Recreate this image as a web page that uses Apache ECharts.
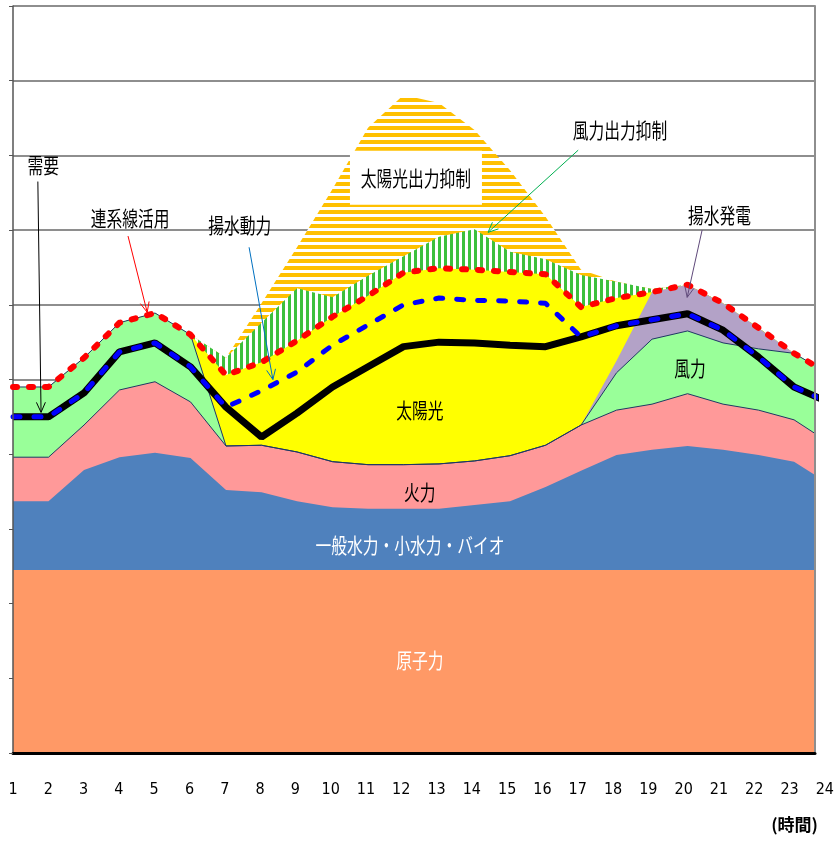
<!DOCTYPE html>
<html lang="ja">
<head>
<meta charset="UTF-8">
<title>需給イメージ</title>
<script src="https://cdn.jsdelivr.net/npm/echarts@6/dist/echarts.min.js"></script>
<style>
    html, body { margin: 0; padding: 0; background: #fff; }
    #main { width: 837px; height: 842px; }
</style>
</head>
<body>
<div id="main"></div>
<script>
// 時刻
var hours = [1,2,3,4,5,6,7,8,9,10,11,12,13,14,15,16,17,18,19,20,21,22,23,24];
var plotEndHour = 23.59;   // 図の右端で切れている位置

// 積み上げ（下から）
var nuclear      = [24.5,24.5,24.5,24.5,24.5,24.5,24.5,24.5,24.5,24.5,24.5,24.5,24.5,24.5,24.5,24.5,24.5,24.5,24.5,24.5,24.5,24.5,24.5,24.5];
var hydro        = [9.2,9.2,13.4,15.1,15.7,15.0,10.7,10.4,9.2,8.4,8.2,8.2,8.2,8.7,9.2,11.1,13.3,15.4,16.1,16.6,16.1,15.4,14.5,11.5];
var thermal      = [5.9,5.9,6.0,9.0,9.5,7.5,5.9,6.3,6.6,6.1,5.9,5.9,6.0,5.9,6.1,5.6,6.1,6.0,6.1,7.0,6.1,6.0,5.6,5.5];
var wind         = [9.4,9.4,9.0,9.0,9.2,9.0,0,0,0,0,0,0,0,0,0,0,0,5.0,8.7,8.4,8.2,8.2,8.9,9.2];
var pumpGen      = [0,0,0,0,0,0,0,0,0,0,0,0,0,0,0,0,0,1.6,6.3,6.2,5.3,2.8,0,0];
var solar        = [0,0,0,0,0,0,9.5,11.1,14.9,19.4,22.6,25.7,26.2,25.6,24.6,22.9,15.8,8.4,0,0,0,0,0,0];
var windCurtail  = [0,0,0,0,0,0,2.3,5.3,7.0,2.6,2.7,2.2,4.2,5.4,2.7,2.0,4.3,2.2,0.4,0,0,0,0,0];
var solarCurtail = [0,0,0,0,0,0,0,2.6,5.5,14.5,19.8,21.6,17.9,13.3,10.9,5.7,0.7,0,0,0,0,0,0,0];

// 線
var demand         = [45.0,45.0,48.2,53.7,54.9,51.7,46.3,42.3,45.5,49.0,51.7,54.4,55.0,54.9,54.6,54.4,55.7,57.2,58.0,58.8,56.6,53.0,49.0,46.9];
var demandWithPump = [45.0,45.0,48.2,53.7,54.9,51.7,46.3,48.5,51.0,54.6,57.3,60.0,60.9,60.6,60.5,60.2,55.7,57.2,58.0,58.8,56.6,53.0,49.0,46.9];

var jpFont = "'Noto Sans CJK JP', sans-serif";

function pairs(arr) {
    return hours.map(function (h, i) { return [h, arr[i]]; });
}

// 積み上げの各上端を計算
var layers = [nuclear, hydro, thermal, wind, pumpGen, solar, windCurtail, solarCurtail];
var tops = [];
var run = hours.map(function () { return 0; });
layers.forEach(function (arr) {
    run = run.map(function (v, i) { return +(v + arr[i]).toFixed(2); });
    tops.push(run);
});
var total = tops[5];   // 連系線活用込みの供給合計

function stripes(color, horizontal) {
    var c = document.createElement('canvas');
    c.width = horizontal ? 8 : 6;
    c.height = horizontal ? 7 : 8;
    var ctx = c.getContext('2d');
    ctx.fillStyle = '#fff';
    ctx.fillRect(0, 0, c.width, c.height);
    ctx.fillStyle = color;
    if (horizontal) ctx.fillRect(0, 0, c.width, 4);
    else ctx.fillRect(0, 0, 3, c.height);
    return { image: c, repeat: 'repeat' };
}

function areaSeries(name, arr, fill, outline) {
    return {
        name: name, type: 'line', data: pairs(arr),
        xAxisIndex: 0, yAxisIndex: 0,
        symbol: 'none', smooth: false,
        lineStyle: outline ? { color: '#1F3864', width: 1 } : { width: 0 },
        areaStyle: { color: fill, opacity: 1, origin: 'start' },
        z: 2
    };
}

var myChart = echarts.init(document.getElementById('main'));

var option = {
    animation: false,
    backgroundColor: '#fff',
    grid: [
        { left: 13, right: 22, top: 6, bottom: 89 },
        { left: 13, right: 7, top: 6, bottom: 89, show: false }
    ],
    xAxis: [
        {
            gridIndex: 0, type: 'value', min: 1, max: plotEndHour, z: 5,
            axisLine: { show: true, lineStyle: { color: '#000', width: 3 } },
            axisTick: { show: false }, axisLabel: { show: false }, splitLine: { show: false }
        },
        {
            gridIndex: 1, type: 'value', min: 1, max: 24, interval: 1,
            axisLine: { show: false }, axisTick: { show: false }, splitLine: { show: false },
            axisLabel: {
                margin: 29, color: '#000', fontSize: 16,
                fontFamily: "'Liberation Sans Narrow', 'DejaVu Sans Condensed', 'Noto Sans', sans-serif"
            }
        }
    ],
    yAxis: [
        {
            gridIndex: 0, type: 'value', min: 0, max: 100, interval: 10,
            axisLine: { show: false }, axisTick: { show: false }, axisLabel: { show: false },
            splitLine: { show: true, lineStyle: { color: '#8E8E8E', width: 2 } }
        },
        {
            gridIndex: 0, type: 'value', position: 'left', min: 0, max: 100, interval: 10, z: 5,
            axisLine: { show: true, lineStyle: { color: '#555', width: 1.5 } },
            axisTick: { show: true, length: 4, lineStyle: { color: '#555' } },
            axisLabel: { show: false }, splitLine: { show: false }
        },
        {
            gridIndex: 0, type: 'value', position: 'right', min: 0, max: 100, z: 5,
            axisLine: { show: true, lineStyle: { color: '#8E8E8E', width: 2 } },
            axisTick: { show: false }, axisLabel: { show: false }, splitLine: { show: false }
        },
        { gridIndex: 1, type: 'value', min: 0, max: 100, show: false }
    ],
    // 上の層から順に描き、下の層で覆う
    series: [
        areaSeries('太陽光出力抑制', tops[7], stripes('#FFC000', true), false),
        areaSeries('風力出力抑制', tops[6], stripes('#3CC03C', false), false),
        areaSeries('太陽光', tops[5], '#FFFF00', false),
        areaSeries('揚水発電', tops[4], '#B3A2C7', false),
        areaSeries('風力', tops[3], '#99FF99', true),
        areaSeries('火力', tops[2], '#FF9999', true),
        areaSeries('一般水力・小水力・バイオ', tops[1], '#4F81BD', false),
        areaSeries('原子力', tops[0], '#FF9966', false),
        {
            name: '需要', type: 'line', data: pairs(demand), symbol: 'none', z: 3,
            lineStyle: { color: '#000', width: 7 }
        },
        {
            name: '揚水動力', type: 'line', data: pairs(demandWithPump), symbol: 'none', z: 4,
            lineStyle: { color: '#0000FF', width: 5, type: [7, 14], cap: 'round' }
        },
        {
            name: '連系線活用', type: 'line', data: pairs(total), symbol: 'none', z: 5,
            lineStyle: { color: '#FF0000', width: 6, type: [4, 12], cap: 'round' }
        }
    ]
};

myChart.setOption(option);

// 注記（データ座標で指定）
var notes = [
    { text: '需要', at: [1.85, 78.7], from: [1.70, 76.5], to: [1.79, 45.6], color: '#000000' },
    { text: '連系線活用', at: [4.30, 71.6], from: [4.24, 69.2], to: [4.78, 59.0], color: '#FF0000' },
    { text: '揚水動力', at: [7.39, 70.7], from: [7.65, 67.7], to: [8.32, 50.0], color: '#0070C0' },
    { text: '太陽光出力抑制', at: [12.35, 77.0], box: true },
    { text: '風力出力抑制', at: [18.10, 83.4], from: [16.92, 80.7], to: [14.38, 69.7], color: '#00B050' },
    { text: '揚水発電', at: [20.90, 72.0], from: [20.41, 70.0], to: [19.99, 61.0], color: '#604A7B' },
    { text: '風力', at: [20.07, 51.5] },
    { text: '太陽光', at: [12.46, 45.9] },
    { text: '火力', at: [12.46, 34.9] },
    { text: '一般水力・小水力・バイオ', at: [12.18, 27.8], white: true },
    { text: '原子力', at: [12.46, 12.4], white: true }
];

var elements = [];
notes.forEach(function (n) {
    var p = myChart.convertToPixel({ gridIndex: 0 }, n.at);
    if (n.box) {
        elements.push({
            type: 'rect', z: 100,
            shape: { x: p[0] - 66, y: p[1] - 27, width: 132, height: 54 },
            style: { fill: '#fff' }
        });
    }
    elements.push({
        type: 'text', z: 101, x: p[0], y: p[1], scaleX: 0.75,
        style: {
            text: n.text, fill: n.white ? '#fff' : '#000',
            font: '21px ' + jpFont, textAlign: 'center', textVerticalAlign: 'middle'
        }
    });
    if (n.from) {
        var a = myChart.convertToPixel({ gridIndex: 0 }, n.from);
        var b = myChart.convertToPixel({ gridIndex: 0 }, n.to);
        var ang = Math.atan2(b[1] - a[1], b[0] - a[0]);
        var len = 11, spread = 0.42;
        var h1 = [b[0] - len * Math.cos(ang - spread), b[1] - len * Math.sin(ang - spread)];
        var h2 = [b[0] - len * Math.cos(ang + spread), b[1] - len * Math.sin(ang + spread)];
        elements.push({
            type: 'line', z: 100,
            shape: { x1: a[0], y1: a[1], x2: b[0], y2: b[1] },
            style: { stroke: n.color, lineWidth: 1 }
        });
        elements.push({
            type: 'polyline', z: 100,
            shape: { points: [h1, b, h2] },
            style: { stroke: n.color, lineWidth: 1, fill: null }
        });
    }
});
elements.push({
    type: 'text', z: 101, right: 19, top: 816,
    style: { text: '(時間)', fill: '#000', font: 'bold 17px ' + jpFont }
});

myChart.setOption({ graphic: elements });
</script>
</body>
</html>
